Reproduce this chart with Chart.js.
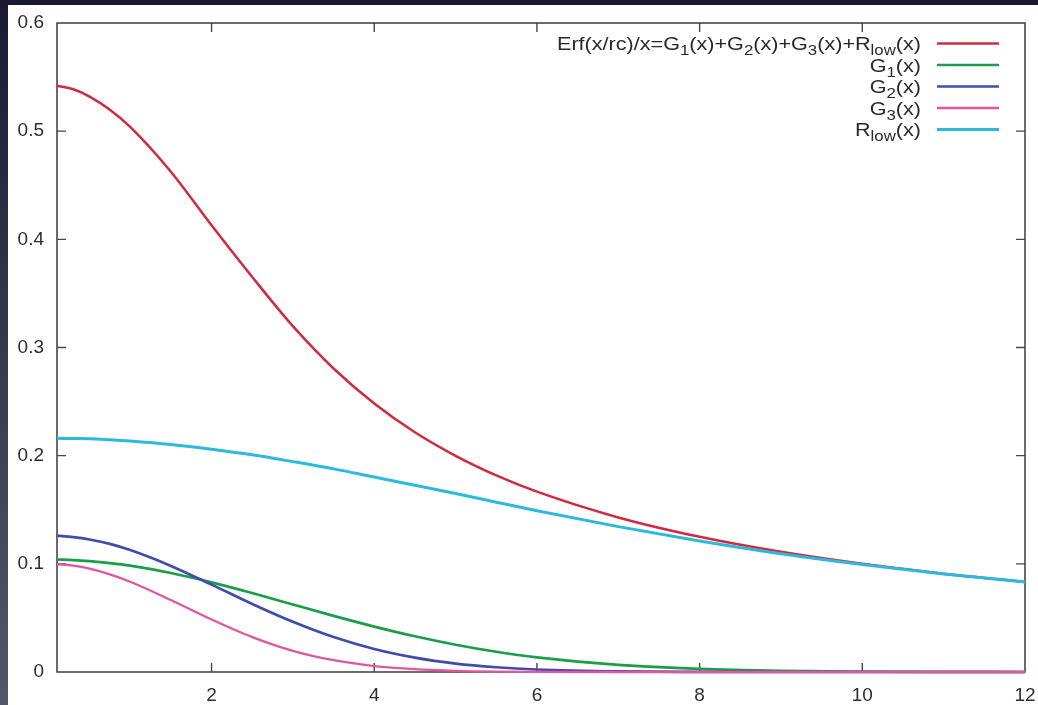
<!DOCTYPE html>
<html><head><meta charset="utf-8">
<script src="https://cdn.jsdelivr.net/npm/chart.js@4"></script>
<style>
html,body{margin:0;padding:0;width:1038px;height:705px;overflow:hidden;background:linear-gradient(to bottom,#1a1a32,#56556b);}
#wrap{position:absolute;left:8px;top:5px;width:1030px;height:700px;background:#fff;}
</style></head><body>
<div id="wrap"><canvas id="c"></canvas></div>
<script>
// ---- data ----
const xValues    = [0.1, 0.3, 0.5, 0.75, 1, 1.5, 2, 2.5, 3, 3.5, 4, 4.5, 5, 5.5, 6, 7, 8, 9, 10, 11, 12];
const erfValues  = [0.542, 0.5387, 0.532, 0.5199, 0.504, 0.4625, 0.413, 0.3652, 0.3197, 0.2806, 0.2483, 0.2217, 0.1999, 0.1818, 0.1667, 0.1429, 0.125, 0.1111, 0.1, 0.0909, 0.0833];
const g1Values   = [0.104, 0.1035, 0.1025, 0.1007, 0.0983, 0.0915, 0.0829, 0.073, 0.0624, 0.0519, 0.042, 0.033, 0.0252, 0.0187, 0.0135, 0.0065, 0.0028, 0.0011, 0.0004, 0.0001, 0];
const g2Values   = [0.126, 0.1247, 0.1225, 0.1184, 0.1127, 0.0981, 0.0808, 0.0629, 0.0464, 0.0323, 0.0213, 0.0133, 0.0078, 0.0044, 0.0023, 0.0005, 0.0001, 0, 0, 0, 0];
const g3Values   = [0.0998, 0.0984, 0.0956, 0.0903, 0.0834, 0.0665, 0.0485, 0.0323, 0.0196, 0.0109, 0.0055, 0.0026, 0.0011, 0.0004, 0.0001, 0, 0, 0, 0, 0, 0];
const rlowValues = [0.216, 0.2158, 0.2157, 0.2148, 0.2136, 0.2104, 0.206, 0.2008, 0.1945, 0.1878, 0.1802, 0.1727, 0.165, 0.157, 0.149, 0.1344, 0.1212, 0.1094, 0.0994, 0.0907, 0.0832];

const seriesLabels = ["Erf(x/rc)/x=G{1}(x)+G{2}(x)+G{3}(x)+R{low}(x)", "G{1}(x)", "G{2}(x)", "G{3}(x)", "R{low}(x)"];
const seriesColors = ["#d22a3c", "#1a9e48", "#3d4cad", "#e2569f", "#2cb9de"];
const seriesWidths = [2.5, 2.7, 2.7, 2.3, 3.0];
const seriesValues = [erfValues, g1Values, g2Values, g3Values, rlowValues];

const xTickValues = [2, 4, 6, 8, 10, 12];
const xTickLabels = ["2", "4", "6", "8", "10", "12"];
const yTickValues = [0, 0.1, 0.2, 0.3, 0.4, 0.5, 0.6];
const yTickLabels = ["0", "0.1", "0.2", "0.3", "0.4", "0.5", "0.6"];

const FONT = "'Liberation Sans', Arial, Helvetica, sans-serif";

const datasets = seriesValues.map((vals, i) => ({
  label: seriesLabels[i],
  data: xValues.map((x, k) => ({x: x, y: vals[k]})),
  borderColor: seriesColors[i],
  backgroundColor: seriesColors[i],
  borderWidth: seriesWidths[i],
  showLine: true,
  pointRadius: 0,
  pointHoverRadius: 0,
  cubicInterpolationMode: 'monotone',
  clip: false,
  order: seriesValues.length - i
}));

function parseRich(s) {
  const parts = []; const re = /([^{}]+)|\{([^}]*)\}/g; let m;
  while ((m = re.exec(s))) { if (m[1]) parts.push({t: m[1], sub: false}); else parts.push({t: m[2], sub: true}); }
  return parts;
}

const frameAndTicks = {
  id: 'frameAndTicks',
  beforeDatasetsDraw(chart) {
    const {ctx, chartArea: a, scales} = chart;
    ctx.save();
    ctx.strokeStyle = '#474747';
    ctx.lineWidth = 1.6;
    ctx.strokeRect(a.left, a.top, a.right - a.left, a.bottom - a.top);
    ctx.lineWidth = 1.4;
    const L = 9;
    ctx.beginPath();
    xTickValues.forEach(v => {
      const px = scales.x.getPixelForValue(v);
      if (px >= a.right - 1) return;
      ctx.moveTo(px, a.bottom); ctx.lineTo(px, a.bottom - L);
      ctx.moveTo(px, a.top); ctx.lineTo(px, a.top + L);
    });
    yTickValues.forEach(v => {
      const py = scales.y.getPixelForValue(v);
      if (py <= a.top + 1 || py >= a.bottom - 1) return;
      ctx.moveTo(a.left, py); ctx.lineTo(a.left + L, py);
      ctx.moveTo(a.right, py); ctx.lineTo(a.right - L, py);
    });
    ctx.stroke();
    ctx.restore();
  }
};

const keyPlugin = {
  id: 'keyPlugin',
  afterDatasetsDraw(chart) {
    const {ctx, chartArea: a} = chart;
    const sx = 1.2, mainSize = 18, subSize = 14, subDrop = 5;
    ctx.save();
    chart.data.datasets.forEach((ds, i) => {
      const rowY = a.top + 20.5 + 21.5 * i;
      ctx.strokeStyle = ds.borderColor;
      ctx.lineWidth = ds.borderWidth;
      ctx.beginPath();
      ctx.moveTo(a.right - 88, rowY); ctx.lineTo(a.right - 26, rowY);
      ctx.stroke();
      const parts = parseRich(ds.label);
      let w = 0;
      parts.forEach(p => { ctx.font = (p.sub ? subSize : mainSize) + 'px ' + FONT; p.w = ctx.measureText(p.t).width; w += p.w; });
      const baseline = rowY + 6.5;
      ctx.save();
      ctx.translate(a.right - 104 - w * sx, baseline);
      ctx.scale(sx, 1);
      ctx.fillStyle = '#2a2a2a';
      ctx.textBaseline = 'alphabetic';
      let cx = 0;
      parts.forEach(p => {
        ctx.font = (p.sub ? subSize : mainSize) + 'px ' + FONT;
        ctx.fillText(p.t, cx, p.sub ? subDrop : 0);
        cx += p.w;
      });
      ctx.restore();
    });
    ctx.restore();
  }
};

new Chart(document.getElementById('c'), {
  type: 'scatter',
  data: {datasets},
  options: {
    responsive: true,
    maintainAspectRatio: false,
    animation: false,
    layout: {padding: {top: 18, right: 13, left: 0, bottom: 0}},
    plugins: {legend: {display: false}, tooltip: {enabled: false}},
    scales: {
      x: {
        type: 'linear', min: 0.1, max: 12,
        grid: {display: false, drawTicks: false},
        border: {display: false},
        afterBuildTicks: s => { s.ticks = xTickValues.map(v => ({value: v})); },
        afterFit: s => { s.height = 33; s.paddingLeft = 0; s.paddingRight = 0; },
        ticks: {
          padding: 12, maxRotation: 0, autoSkip: false,
          color: '#2e2e2e', font: {family: FONT, size: 19},
          callback: (v) => { const k = xTickValues.indexOf(v); return k >= 0 ? xTickLabels[k] : ''; }
        }
      },
      y: {
        type: 'linear', min: 0, max: 0.6,
        grid: {display: false, drawTicks: false},
        border: {display: false},
        afterBuildTicks: s => { s.ticks = yTickValues.map(v => ({value: v})); },
        afterFit: s => { s.width = 49; s.paddingTop = 0; s.paddingBottom = 0; },
        ticks: {
          padding: 13, autoSkip: false,
          color: '#2e2e2e', font: {family: FONT, size: 19},
          callback: (v) => { const k = yTickValues.indexOf(v); return k >= 0 ? yTickLabels[k] : ''; }
        }
      }
    }
  },
  plugins: [frameAndTicks, keyPlugin]
});
</script>
</body></html>
